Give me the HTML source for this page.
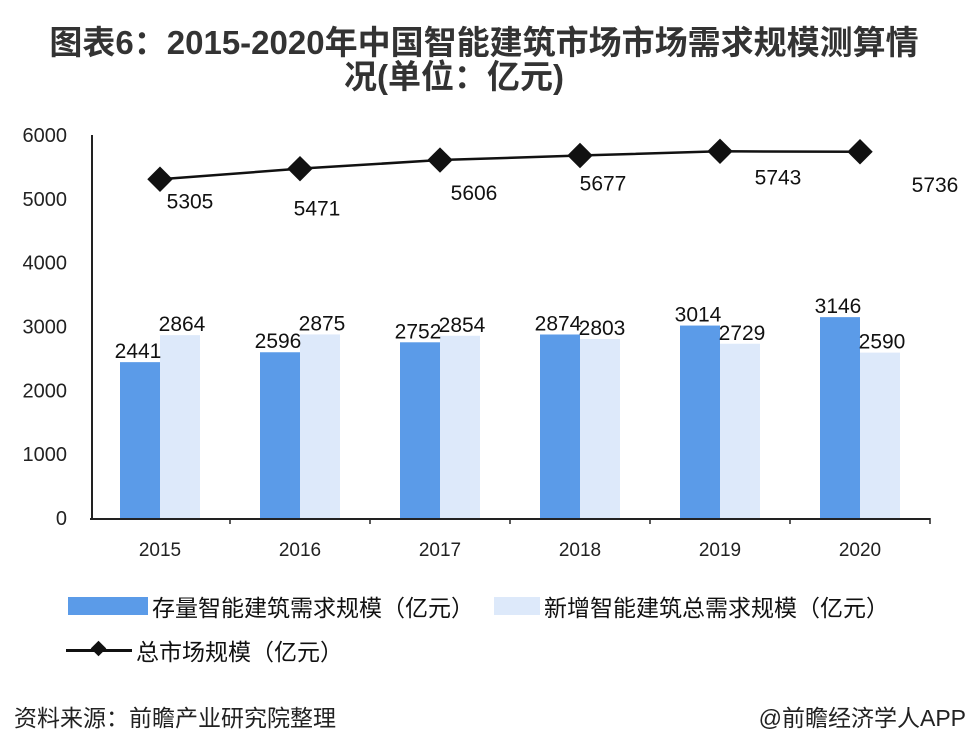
<!DOCTYPE html>
<html><head><meta charset="utf-8"><style>
body{margin:0;background:#fff;width:968px;height:756px;overflow:hidden;font-family:"Liberation Sans","Noto Sans CJK SC",sans-serif}
.t{position:absolute;left:0;width:968px;text-align:center;font-weight:bold;font-size:33px;color:#333;line-height:34px}
</style></head><body>
<div class="t" style="top:26px">图表6：2015-2020年中国智能建筑市场市场需求规模测算情<br><span style="margin-right:60px">况(单位：亿元)</span></div>
<svg id="c" width="968" height="756" style="position:absolute;left:0;top:0"></svg>
<script>
const categories=["2015","2016","2017","2018","2019","2020"];
const stockValues=[2441,2596,2752,2874,3014,3146];
const newValues=[2864,2875,2854,2803,2729,2590];
const totalValues=[5305,5471,5606,5677,5743,5736];
const yTicks=[0,1000,2000,3000,4000,5000,6000];
const labelDx=[30,17,34,23,58,75];
const labelDy=[29,47,40,35,33,40];
const NS="http://www.w3.org/2000/svg",svg=document.getElementById('c');
const x0=90,cw=140,y0=518,k=63.85/1000;
const X=i=>x0+cw*i+cw/2, Y=v=>y0-v*k;
function el(t,a,txt){const e=document.createElementNS(NS,t);for(const n in a)e.setAttribute(n,a[n]);if(txt!=null)e.textContent=txt;svg.appendChild(e);return e;}
yTicks.forEach(v=>{const e=el('text',{x:67,y:Y(v)+7,'text-anchor':'end','font-size':20,fill:'#222'},v);

});
categories.forEach((c,i)=>{
const b1=el('rect',{x:X(i)-40,y:Y(stockValues[i]),width:40,height:stockValues[i]*k,fill:'#5b9be8'});


const b2=el('rect',{x:X(i),y:Y(newValues[i]),width:40,height:newValues[i]*k,fill:'#dde9fa'});


const l1=el('text',{x:X(i)-22,y:Y(stockValues[i])-4,'text-anchor':'middle','font-size':21,fill:'#111'},stockValues[i]);


const l2=el('text',{x:X(i)+22,y:Y(newValues[i])-4,'text-anchor':'middle','font-size':21,fill:'#111'},newValues[i]);


const xl=el('text',{x:X(i),y:556,'text-anchor':'middle','font-size':19,fill:'#222'},c);


const tk=el('line',{x1:x0+cw*(i+1),x2:x0+cw*(i+1),y1:518,y2:524,stroke:'#222','stroke-width':1.5});


});
const ax=el('line',{x1:x0,x2:x0+cw*6,y1:519,y2:519,stroke:'#222','stroke-width':2});


const ay=el('line',{x1:x0+2,x2:x0+2,y1:135,y2:519,stroke:'#222','stroke-width':2});


const ln=el('polyline',{points:totalValues.map((v,i)=>X(i)+','+Y(v)).join(' '),fill:'none',stroke:'#111','stroke-width':2.5});


totalValues.forEach((v,i)=>{
const m=el('rect',{x:X(i)-9,y:Y(v)-9,width:18,height:18,fill:'#111',transform:`rotate(45 ${X(i)} ${Y(v)})`});


const t=el('text',{x:X(i)+labelDx[i],y:Y(v)+labelDy[i],'text-anchor':'middle','font-size':21,fill:'#111'},v);


});
</script>
<div style="position:absolute;left:68px;top:589px;font-size:23px;color:#111;display:flex;align-items:center"><span style="display:inline-block;width:80px;height:18px;background:#5b9be8;margin-right:4px"></span>存量智能建筑需求规模（亿元）</div>
<div style="position:absolute;left:494px;top:589px;font-size:23px;color:#111;display:flex;align-items:center"><span style="display:inline-block;width:46px;height:18px;background:#dde9fa;margin-right:4px"></span>新增智能建筑总需求规模（亿元）</div>
<div style="position:absolute;left:66px;top:633px;font-size:23px;color:#111;display:flex;align-items:center"><span style="position:relative;display:inline-block;width:66px;height:3px;background:#111;margin-right:4px"><span style="position:absolute;left:27px;top:-6px;width:11px;height:11px;background:#111;transform:rotate(45deg)"></span></span>总市场规模（亿元）</div>
<div style="position:absolute;left:14px;top:699px;font-size:23px;color:#222">资料来源：前瞻产业研究院整理</div>
<div style="position:absolute;right:2px;top:699px;font-size:23px;color:#222">@前瞻经济学人APP</div>
</body></html>
